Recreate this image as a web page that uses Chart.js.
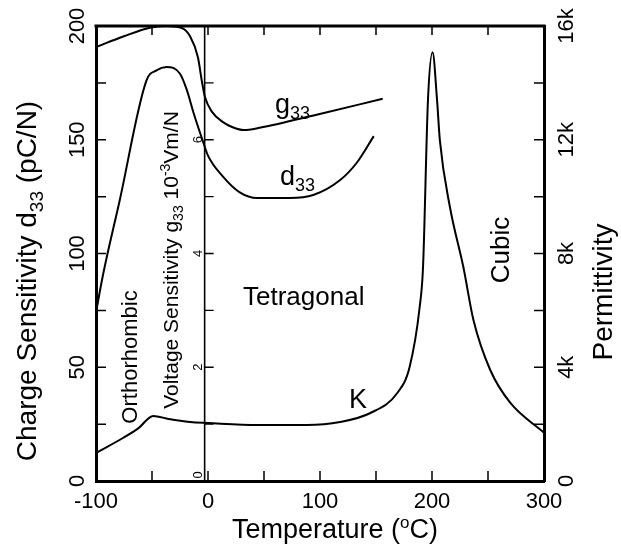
<!DOCTYPE html>
<html><head><meta charset="utf-8">
<script src="https://cdn.jsdelivr.net/npm/chart.js@4.4.0/dist/chart.umd.min.js"></script>
<style>html,body{margin:0;padding:0;background:#fff}#wrap{width:621px;height:550px}</style>
</head><body><div id="wrap"><canvas id="c" width="621" height="550"></canvas></div>
<script>
const FONT = '"Liberation Sans", Arial, Helvetica, sans-serif';

// ---- data ----
const tempD33 = [-100, -94, -79, -55, -46, -37, -25, -19, -13, -5, 0, 13, 28, 44, 73, 94, 118, 133, 148];
const d33 = [74, 90, 123, 176, 180.5, 182, 179, 172, 162, 150, 143, 134, 127, 124.4, 124.4, 125.7, 132.3, 140, 151.6];

const tempG33 = [-100, -75, -52, -38, -24, -16, -9, -5.4, -2.7, 3.6, 13.4, 22, 32, 46, 97, 156];
const g33 = [7.63, 7.82, 7.97, 8.0, 7.97, 7.82, 7.45, 7.02, 6.75, 6.49, 6.31, 6.22, 6.17, 6.21, 6.44, 6.72];

const tempK = [-100, -76, -62, -49, -35, -16, 0, 44, 88, 118, 145, 169, 180, 189, 192, 196.4, 200.5, 204.5, 207, 216, 228, 237, 252, 270, 300];
const permK = [985, 1512, 1860, 2290, 2180, 2075, 2040, 1969, 1969, 2075, 2391, 3094, 4009, 6119, 7525, 13400, 15080, 13400, 11990, 9635, 7525, 5661, 3903, 2743, 1700];

const xTicks = [-100, 0, 100, 200, 300];
const d33Ticks = [0, 50, 100, 150, 200];
const kTicks = [0, 4000, 8000, 12000, 16000];
const kTickLabels = ['0', '4k', '8k', '12k', '16k'];
const g33Ticks = [0, 2, 4, 6];
const g33AxisAt = -3;

function pts(xs, ys) { return xs.map((x, i) => ({x: x, y: ys[i]})); }

function drawRich(ctx, parts, x, y, rot, align) {
  ctx.save();
  ctx.translate(x, y);
  ctx.rotate(rot || 0);
  let w = 0;
  parts.forEach(p => { ctx.font = p.s + 'px ' + FONT; p._w = ctx.measureText(p.t).width; w += p._w; });
  let cx = align === 'center' ? -w / 2 : (align === 'right' ? -w : 0);
  ctx.textAlign = 'left'; ctx.textBaseline = 'alphabetic'; ctx.fillStyle = '#000';
  parts.forEach(p => { ctx.font = p.s + 'px ' + FONT; ctx.fillText(p.t, cx, p.dy || 0); cx += p._w; });
  ctx.restore();
}

const decor = {
  id: 'decor',
  afterDraw(chart) {
    const ctx = chart.ctx;
    const {x, y, yK, yG} = chart.scales;
    const ca = chart.chartArea;
    ctx.save();
    ctx.strokeStyle = '#000';
    // top frame
    ctx.lineWidth = 3;
    ctx.beginPath(); ctx.moveTo(ca.left - 1.5, ca.top); ctx.lineTo(ca.right + 1.5, ca.top); ctx.stroke();
    // inward ticks
    ctx.lineWidth = 1.5;
    ctx.beginPath();
    for (let v = 25; v < 200; v += 25) { const p = y.getPixelForValue(v); ctx.moveTo(ca.left, p); ctx.lineTo(ca.left + 10, p); }
    for (let v = 2000; v < 16000; v += 2000) { const p = yK.getPixelForValue(v); ctx.moveTo(ca.right, p); ctx.lineTo(ca.right - 10, p); }
    for (let v = -50; v < 300; v += 50) { const p = x.getPixelForValue(v); ctx.moveTo(p, ca.bottom); ctx.lineTo(p, ca.bottom - 10); ctx.moveTo(p, ca.top); ctx.lineTo(p, ca.top + 9); }
    ctx.stroke();
    // inner g33 axis
    const ax = x.getPixelForValue(g33AxisAt);
    ctx.lineWidth = 1.6;
    ctx.beginPath(); ctx.moveTo(ax, ca.top); ctx.lineTo(ax, ca.bottom); ctx.stroke();
    ctx.lineWidth = 1.3;
    ctx.beginPath();
    for (let v = 1; v < 8; v++) { const p = yG.getPixelForValue(v); ctx.moveTo(ax, p); ctx.lineTo(ax + 9, p); }
    ctx.stroke();
    g33Ticks.forEach(v => {
      const p = yG.getPixelForValue(v) - (v === 0 ? 6 : 0);
      drawRich(ctx, [{t: String(v), s: 13}], ax - 3, p, -Math.PI / 2, 'center');
    });
    ctx.restore();

    // axis titles
    drawRich(ctx, [{t: 'Charge Sensitivity d', s: 28}, {t: '33', s: 19, dy: 7}, {t: ' (pC/N)', s: 28}], 36, 281, -Math.PI / 2, 'center');
    drawRich(ctx, [{t: 'Permittivity', s: 28}], 612, 292, -Math.PI / 2, 'center');
    drawRich(ctx, [{t: 'Temperature (', s: 27}, {t: 'o', s: 17, dy: -10}, {t: 'C)', s: 27}], 335, 538, 0, 'center');
    drawRich(ctx, [{t: 'Voltage Sensitivity g', s: 21}, {t: '33', s: 14, dy: 5}, {t: ' 10', s: 21}, {t: '-3', s: 14, dy: -8}, {t: 'Vm/N', s: 21}], 178, 260, -Math.PI / 2, 'center');

    // region / curve labels
    drawRich(ctx, [{t: 'Orthorhombic', s: 22}], 137, 357, -Math.PI / 2, 'center');
    drawRich(ctx, [{t: 'Tetragonal', s: 26}], 243, 305, 0, 'left');
    drawRich(ctx, [{t: 'Cubic', s: 26}], 509, 250, -Math.PI / 2, 'center');
    drawRich(ctx, [{t: 'K', s: 27}], 349, 408, 0, 'left');
    drawRich(ctx, [{t: 'g', s: 27}, {t: '33', s: 18, dy: 6}], 275, 113, 0, 'left');
    drawRich(ctx, [{t: 'd', s: 27}, {t: '33', s: 18, dy: 6}], 280, 185, 0, 'left');
  }
};

const lineStyle = {borderColor: '#000', borderWidth: 2, pointRadius: 0, fill: false, cubicInterpolationMode: 'monotone'};

new Chart(document.getElementById('c'), {
  type: 'line',
  data: {
    datasets: [
      Object.assign({label: 'd33', data: pts(tempD33, d33), yAxisID: 'y'}, lineStyle),
      Object.assign({label: 'g33', data: pts(tempG33, g33), yAxisID: 'yG'}, lineStyle),
      Object.assign({label: 'K', data: pts(tempK, permK), yAxisID: 'yK'}, lineStyle)
    ]
  },
  options: {
    responsive: false, animation: false, devicePixelRatio: 1,
    layout: {padding: {top: 26, left: 0, right: 0, bottom: 0}},
    plugins: {legend: {display: false}, tooltip: {enabled: false}},
    scales: {
      x: {
        type: 'linear', position: 'bottom', min: -100, max: 300,
        afterBuildTicks: s => { s.ticks = xTicks.map(v => ({value: v})); },
        grid: {display: false, drawTicks: false},
        border: {display: true, color: '#000', width: 3},
        ticks: {color: '#000', font: {family: FONT, size: 22}, padding: 8, minRotation: 0, maxRotation: 0},
        afterFit: s => { s.height = 69; }
      },
      y: {
        type: 'linear', position: 'left', min: 0, max: 200,
        afterBuildTicks: s => { s.ticks = d33Ticks.map(v => ({value: v})); },
        grid: {display: false, drawTicks: false},
        border: {display: true, color: '#000', width: 3},
        ticks: {color: '#000', font: {family: FONT, size: 22}, padding: 0, minRotation: 90, maxRotation: 90, crossAlign: 'center'},
        afterFit: s => { s.width = 96; }
      },
      yK: {
        type: 'linear', position: 'right', min: 0, max: 16000,
        afterBuildTicks: s => { s.ticks = kTicks.map(v => ({value: v})); },
        grid: {display: false, drawTicks: false},
        border: {display: true, color: '#000', width: 3},
        ticks: {color: '#000', font: {family: FONT, size: 22}, padding: 5, minRotation: 90, maxRotation: 90, crossAlign: 'center',
          callback: v => kTickLabels[kTicks.indexOf(v)]},
        afterFit: s => { s.width = 77; }
      },
      yG: {type: 'linear', display: false, min: 0, max: 8}
    }
  },
  plugins: [decor]
});
</script>
</body></html>
